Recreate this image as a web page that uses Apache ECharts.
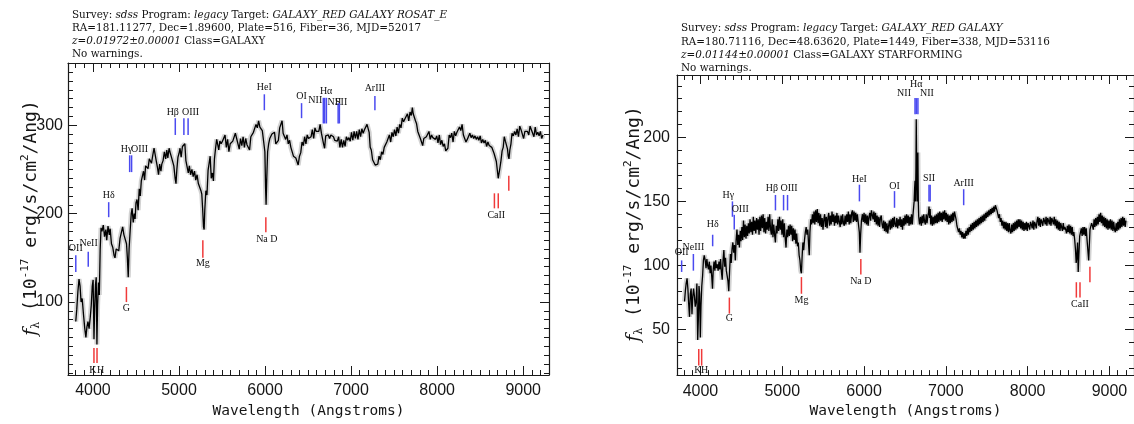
<!DOCTYPE html>
<html><head><meta charset="utf-8">
<script src="https://cdn.jsdelivr.net/npm/echarts@6/dist/echarts.min.js"></script>
<style>html,body{margin:0;padding:0;background:#fff}#c{width:1134px;height:424px}</style>
</head><body><div id="c"></div>
<script>
const leftZ = 0.01972, rightZ = 0.01144;
const leftHeader = [
 "Survey: {i|sdss} Program: {i|legacy} Target: {i|GALAXY_RED GALAXY ROSAT_E}",
 "RA=181.11277, Dec=1.89600, Plate=516, Fiber=36, MJD=52017",
 "{i|z=0.01972±0.00001} Class=GALAXY",
 "No warnings."
];
const rightHeader = [
 "Survey: {i|sdss} Program: {i|legacy} Target: {i|GALAXY_RED GALAXY}",
 "RA=180.71116, Dec=48.63620, Plate=1449, Fiber=338, MJD=53116",
 "{i|z=0.01144±0.00001} Class=GALAXY STARFORMING",
 "No warnings."
];
const xTickLabels = [4000,5000,6000,7000,8000,9000];
const leftYTickLabels = [100,200,300];
const rightYTickLabels = [50,100,150,200];

const leftSpectrum = [
[3800,78],[3812,92],[3825,112],[3838,126],[3850,118],[3862,100],[3875,104],[3890,86],[3905,70],[3918,60],
[3930,72],[3942,78],[3955,70],[3968,82],[3980,96],[3992,118],[4002,125],[4012,58],[4020,92],[4030,120],
[4038,128],[4046,52],[4054,96],[4064,122],[4074,108],[4084,160],[4094,184],[4105,180],[4120,187],[4135,174],
[4150,182],[4160,170],[4175,186],[4190,176],[4200,183],[4215,166],[4230,162],[4245,153],[4256,150],[4270,160],
[4285,162],[4300,158],[4315,172],[4330,174],[4345,185],[4360,176],[4375,174],[4390,166],[4400,150],[4410,128],
[4420,160],[4432,180],[4445,200],[4455,206],[4468,190],[4480,200],[4490,194],[4500,212],[4512,216],[4525,204],
[4538,228],[4550,220],[4562,237],[4575,238],[4588,248],[4600,238],[4612,254],[4625,254],[4640,251],[4655,262],
[4668,260],[4680,257],[4695,266],[4710,274],[4722,276],[4735,260],[4750,252],[4762,244],[4775,256],[4790,248],
[4800,256],[4815,260],[4830,270],[4845,262],[4858,272],[4870,263],[4885,274],[4900,268],[4912,264],[4925,264],
[4940,254],[4955,240],[4965,234],[4975,250],[4988,264],[5000,268],[5012,274],[5025,264],[5040,276],[5055,274],
[5068,279],[5080,260],[5095,260],[5108,246],[5120,254],[5135,244],[5150,250],[5165,242],[5180,248],[5195,238],
[5210,244],[5225,234],[5240,234],[5255,226],[5265,222],[5275,205],[5285,185],[5292,182],[5300,205],[5312,226],
[5325,221],[5338,249],[5350,257],[5362,265],[5375,240],[5388,246],[5400,237],[5412,262],[5425,274],[5438,284],
[5450,286],[5462,272],[5475,282],[5490,279],[5505,282],[5520,283],[5535,289],[5550,275],[5565,284],[5580,270],
[5595,279],[5610,278],[5625,282],[5640,281],[5655,291],[5670,285],[5685,283],[5700,273],[5715,285],[5730,277],
[5745,287],[5760,275],[5775,285],[5790,278],[5805,279],[5820,272],[5835,287],[5850,286],[5865,292],[5880,290],
[5895,301],[5910,297],[5925,305],[5940,298],[5955,300],[5968,294],[5985,292],[5998,270],[6006,230],[6012,210],
[6020,240],[6030,270],[6042,279],[6055,285],[6068,284],[6080,290],[6095,288],[6110,292],[6125,279],[6140,281],
[6155,283],[6170,297],[6185,297],[6198,305],[6210,291],[6225,293],[6240,284],[6255,289],[6270,279],[6285,283],
[6300,275],[6315,275],[6330,265],[6345,265],[6358,263],[6370,262],[6385,255],[6400,265],[6415,269],[6430,281],
[6445,277],[6460,287],[6475,279],[6490,289],[6505,285],[6520,287],[6535,287],[6550,295],[6565,285],[6580,297],
[6595,293],[6610,295],[6625,293],[6640,301],[6655,291],[6668,293],[6680,279],[6692,274],[6705,288],[6720,287],
[6735,289],[6750,285],[6765,289],[6780,287],[6795,287],[6810,283],[6825,285],[6840,282],[6855,287],[6870,275],
[6885,284],[6900,275],[6915,283],[6930,276],[6945,287],[6960,283],[6975,286],[6990,282],[7005,292],[7020,283],
[7035,293],[7050,285],[7065,293],[7080,284],[7095,295],[7110,287],[7125,296],[7140,291],[7155,295],[7170,293],
[7185,301],[7198,300],[7210,292],[7222,275],[7235,272],[7250,261],[7265,262],[7280,255],[7295,257],[7310,256],
[7325,265],[7340,261],[7355,270],[7370,267],[7385,275],[7400,273],[7415,281],[7430,279],[7445,289],[7460,281],
[7475,292],[7490,287],[7505,295],[7520,288],[7535,298],[7550,291],[7565,301],[7580,297],[7595,308],[7610,304],
[7625,307],[7640,305],[7655,313],[7670,305],[7685,315],[7700,311],[7712,320],[7722,313],[7735,314],[7748,305],
[7760,302],[7775,293],[7790,294],[7805,285],[7818,285],[7832,277],[7845,285],[7860,283],[7875,287],[7890,285],
[7905,293],[7920,284],[7935,289],[7950,286],[7965,287],[7980,284],[7995,288],[8010,280],[8025,289],[8040,278],
[8055,283],[8070,276],[8085,279],[8100,271],[8112,273],[8125,274],[8140,289],[8155,286],[8170,291],[8185,281],
[8200,293],[8215,288],[8230,292],[8245,290],[8260,298],[8275,294],[8290,301],[8305,289],[8320,291],[8335,281],
[8350,284],[8365,283],[8380,291],[8395,286],[8410,289],[8425,285],[8440,288],[8455,284],[8470,287],[8485,283],
[8500,288],[8515,280],[8530,284],[8545,280],[8560,283],[8575,276],[8590,281],[8605,277],[8620,279],[8635,275],
[8650,276],[8662,268],[8675,270],[8688,259],[8700,258],[8710,240],[8720,238],[8730,252],[8742,260],[8755,271],
[8768,275],[8780,287],[8793,282],[8805,283],[8818,273],[8826,265],[8835,262],[8845,272],[8858,279],[8870,291],
[8885,288],[8900,293],[8915,289],[8930,296],[8945,287],[8960,299],[8975,295],[8990,297],[9005,285],[9020,293],
[9035,291],[9050,293],[9065,289],[9080,299],[9095,295],[9110,295],[9125,287],[9140,298],[9155,289],[9170,292],
[9185,288],[9200,293],[9215,285],[9230,289]
];

const rightSpectrum = [
[3805,72],[3815,80],[3825,86],[3836,90],[3846,82],[3856,70],[3866,60],[3876,78],[3886,82],[3896,62],
[3906,76],[3916,82],[3926,76],[3936,68],[3946,72],[3956,86],[3966,42],[3974,58],[3982,84],[3990,78],
[3998,44],[4006,68],[4016,84],[4026,92],[4036,104],[4046,108],[4058,104],[4068,98],[4078,105],[4088,100],
[4098,97],[4108,103],[4118,94],[4128,100],[4138,91],[4147,82],[4156,97],[4166,103],[4176,96],[4186,104],
[4196,98],[4206,101],[4216,96],[4226,103],[4236,97],[4246,105],[4256,95],[4266,89],[4276,104],[4286,112],
[4296,99],[4306,106],[4316,96],[4326,95],[4336,88],[4346,80],[4356,96],[4366,109],[4376,102],[4386,113],
[4396,118],[4406,110],[4416,116],[4426,104],[4436,120],[4446,128],[4456,116],[4466,124],[4476,114],[4486,127],
[4496,119],[4506,130],[4516,120],[4526,135],[4536,122],[4546,132],[4556,121],[4566,131],[4576,123],[4586,133],
[4596,125],[4606,136],[4616,126],[4626,134],[4636,124],[4646,138],[4656,127],[4666,135],[4676,125],[4686,137],
[4696,128],[4706,136],[4716,124],[4726,138],[4736,127],[4746,139],[4756,129],[4766,140],[4776,126],[4786,137],
[4796,125],[4806,134],[4816,128],[4826,138],[4836,127],[4846,140],[4856,129],[4866,124],[4876,136],[4886,122],
[4896,132],[4906,124],[4916,118],[4926,131],[4936,125],[4946,136],[4956,127],[4966,138],[4976,128],[4986,135],
[4996,124],[5006,136],[5016,122],[5026,133],[5036,121],[5046,114],[5056,128],[5066,122],[5076,131],[5086,123],
[5096,132],[5106,124],[5116,131],[5126,119],[5136,129],[5146,120],[5156,128],[5166,117],[5176,125],[5186,115],
[5196,118],[5206,108],[5216,104],[5226,96],[5234,94],[5242,106],[5252,118],[5262,112],[5272,120],[5282,126],
[5292,130],[5302,124],[5312,128],[5322,116],[5330,108],[5338,126],[5348,136],[5358,132],[5368,140],[5378,133],
[5388,142],[5398,132],[5408,143],[5418,134],[5428,144],[5438,133],[5448,141],[5458,131],[5468,140],[5478,130],
[5488,137],[5498,128],[5508,136],[5518,140],[5528,130],[5538,138],[5548,129],[5558,137],[5568,141],[5578,131],
[5588,139],[5598,132],[5608,142],[5618,134],[5628,140],[5638,131],[5648,139],[5658,133],[5668,141],[5678,132],
[5688,139],[5698,134],[5708,130],[5718,139],[5728,132],[5738,140],[5748,133],[5758,131],[5768,139],[5778,132],
[5788,140],[5798,134],[5808,142],[5818,132],[5828,140],[5838,133],[5848,141],[5858,143],[5868,134],[5878,142],
[5888,135],[5898,141],[5908,134],[5918,140],[5930,133],[5942,126],[5950,110],[5958,124],[5968,135],[5980,140],
[5990,134],[6000,141],[6010,133],[6020,140],[6030,132],[6040,139],[6050,131],[6060,138],[6070,141],[6080,135],
[6090,143],[6100,144],[6110,136],[6120,142],[6130,134],[6140,141],[6150,132],[6160,139],[6170,131],[6180,138],
[6190,130],[6200,137],[6210,139],[6220,132],[6230,129],[6240,135],[6250,127],[6260,134],[6270,126],[6280,133],
[6290,125],[6300,131],[6310,135],[6320,128],[6330,136],[6340,129],[6350,137],[6360,130],[6370,138],[6380,132],
[6390,130],[6400,137],[6410,129],[6420,136],[6430,131],[6440,138],[6450,130],[6460,136],[6470,128],[6480,137],
[6490,131],[6500,139],[6510,132],[6520,140],[6530,133],[6540,139],[6550,131],[6560,138],[6570,132],[6580,140],
[6590,132],[6600,141],[6612,150],[6618,160],[6623,166],[6628,150],[6634,175],[6638,214],[6642,185],[6648,150],
[6653,165],[6658,188],[6663,150],[6668,138],[6678,132],[6690,138],[6700,131],[6710,139],[6720,133],[6730,140],
[6740,134],[6750,132],[6760,140],[6770,133],[6780,139],[6788,141],[6794,146],[6800,137],[6808,144],[6815,132],
[6825,139],[6835,131],[6845,138],[6855,132],[6865,139],[6875,133],[6885,140],[6895,133],[6905,141],[6915,134],
[6925,142],[6935,135],[6945,141],[6955,134],[6965,142],[6975,136],[6985,143],[6995,135],[7005,141],[7015,134],
[7025,140],[7035,132],[7045,139],[7055,133],[7065,140],[7075,134],[7085,141],[7095,135],[7105,142],[7115,141],
[7125,136],[7135,131],[7145,132],[7155,126],[7165,129],[7175,124],[7185,127],[7195,122],[7205,126],[7215,121],
[7225,125],[7235,121],[7245,127],[7255,123],[7265,129],[7275,124],[7285,130],[7295,126],[7305,132],[7315,127],
[7325,133],[7335,128],[7345,134],[7355,129],[7365,135],[7375,130],[7385,136],[7395,131],[7405,137],[7415,132],
[7425,138],[7435,133],[7445,139],[7455,134],[7465,140],[7475,135],[7485,141],[7495,137],[7505,142],[7515,138],
[7525,143],[7535,139],[7545,144],[7555,140],[7565,145],[7575,141],[7585,146],[7595,142],[7605,147],[7615,148],
[7625,143],[7635,140],[7645,137],[7655,140],[7665,134],[7675,137],[7685,131],[7695,135],[7705,129],[7715,134],
[7725,128],[7735,134],[7745,127],[7755,133],[7765,126],[7775,133],[7785,127],[7795,125],[7805,132],[7815,126],
[7825,133],[7835,127],[7845,134],[7855,128],[7865,135],[7875,129],[7885,136],[7895,130],[7905,136],[7915,129],
[7925,135],[7935,128],[7945,134],[7955,127],[7965,133],[7975,128],[7985,134],[7995,127],[8005,133],[8015,131],
[8025,128],[8035,134],[8045,132],[8055,129],[8065,135],[8075,128],[8085,134],[8095,132],[8105,129],[8115,135],
[8125,138],[8135,131],[8145,137],[8155,130],[8165,136],[8175,134],[8185,131],[8195,137],[8205,135],[8215,132],
[8225,138],[8235,131],[8245,137],[8255,135],[8265,132],[8275,138],[8285,131],[8295,137],[8305,135],[8315,132],
[8325,138],[8335,131],[8345,136],[8355,129],[8365,135],[8375,128],[8385,134],[8395,127],[8405,133],[8415,130],
[8425,127],[8435,133],[8445,128],[8455,130],[8465,128],[8475,125],[8485,131],[8495,126],[8505,132],[8515,125],
[8525,131],[8535,124],[8545,130],[8555,123],[8565,126],[8575,120],[8585,112],[8593,102],[8600,106],[8610,118],
[8618,95],[8626,108],[8636,123],[8646,122],[8656,129],[8666,123],[8676,130],[8686,124],[8696,130],[8706,123],
[8716,129],[8726,120],[8736,119],[8746,104],[8754,116],[8762,128],[8772,127],[8782,133],[8792,131],[8802,128],
[8812,136],[8822,130],[8832,137],[8842,131],[8852,138],[8862,132],[8872,140],[8882,134],[8892,141],[8902,133],
[8912,139],[8922,131],[8932,138],[8942,130],[8952,137],[8962,129],[8972,136],[8982,128],[8992,135],[9002,129],
[9012,136],[9022,128],[9032,135],[9042,127],[9052,134],[9062,128],[9072,126],[9082,133],[9092,127],[9102,134],
[9112,128],[9122,136],[9132,129],[9142,137],[9152,130],[9162,138],[9172,131],[9182,137],[9192,130],[9202,135]
];

// [label, rest wavelength, flux low end, flux high end, label flux, colour b/r, label dx px]
const leftMarkers = [
 ['OII',3727,134,153,161,'b',0], ['NeIII',3869,140,157,166,'b',2], ['Hδ',4102,196,213,221,'b',0],
 ['Hγ',4341,247,266,273,'b',-3], ['OIII',4363,247,266,273,'b',8], ['Hβ',4861,289,308,315,'b',-2.5],
 ['',4959,289,308,0,'b',0], ['OIII',5007,289,308,315,'b',2.5], ['HeI',5876,317,335,343,'b',0],
 ['OI',6300,308,325,333,'b',0], ['NII',6548,302,331,328,'b',-8], ['Hα',6563,302,331,338,'b',1.5],
 ['NII',6583,302,331,326,'b',8], ['SII',6717,302,325,326,'b',3], ['',6731,302,325,0,'b',0],
 ['ArIII',7136,317,333,342,'b',0],
 ['K',3934,31,48,23,'r',-1], ['H',3969,31,48,23,'r',3.5], ['G',4304,100,117,93,'r',0],
 ['Mg',5175,150,170,144,'r',0], ['Na D',5893,179,196,171,'r',1], ['',8498,206,223,0,'r',0],
 ['CaII',8542,206,223,198,'r',-2], ['',8662,226,243,0,'r',0]
];
const rightMarkers = [
 ['OII',3727,95,104,110,'b',0], ['NeIII',3869,96,109,114,'b',0], ['Hδ',4102,115,124,132,'b',0],
 ['Hγ',4341,138,150,155,'b',-4], ['OIII',4363,128,139.5,144,'b',6], ['Hβ',4861,143,155,160,'b',-3.5],
 ['',4959,143,155,0,'b',0], ['OIII',5007,143,155,160,'b',1.5], ['HeI',5876,150,163,167,'b',0],
 ['OI',6300,145,158,162,'b',0], ['NII',6548,218,230.5,234,'b',-11], ['Hα',6563,218,230.5,241,'b',0],
 ['NII',6583,218,230.5,234,'b',9], ['SII',6717,150,163,168,'b',0], ['',6731,150,163,0,'b',0],
 ['ArIII',7136,147,159.5,164,'b',0],
 ['K',3934,22,35,18.5,'r',-1], ['H',3969,22,35,18.5,'r',3], ['G',4304,62.5,75,58.5,'r',0],
 ['Mg',5175,78,91,73,'r',0], ['Na D',5893,93,105,88,'r',0], ['',8498,75,87,0,'r',0],
 ['CaII',8542,75,87,70,'r',0], ['',8662,87,99,0,'r',0]
];

function steps(a, b, s) { const r = []; for (let v = a; v <= b; v += s) r.push(v); return r; }
const xMinor = steps(3800, 9200, 100);
const leftYMinor = steps(20, 370, 10);
const rightYMinor = steps(20, 240, 10);

const AX = '#1a1a1a';
const tickFont = {fontFamily: 'Liberation Sans', fontSize: 16, color: '#151515', formatter: v => String(v)};
const titleFont = {fontFamily: 'DejaVu Sans Mono', fontSize: 14.5, color: '#151515'};

function xAxes(gi, min, max, gap) {
  const c = {type: 'value', gridIndex: gi, min, max, splitLine: {show: false}};
  const line = {onZero: false, lineStyle: {color: AX, width: 1.2}};
  return [
    Object.assign({}, c, {position: 'bottom', axisLine: line,
      axisTick: {inside: true, length: 9, customValues: xTickLabels, lineStyle: {color: AX}},
      axisLabel: Object.assign({customValues: xTickLabels, margin: 8}, tickFont),
      name: 'Wavelength (Angstroms)', nameLocation: 'middle', nameGap: gap, nameTextStyle: titleFont}),
    Object.assign({}, c, {position: 'bottom', axisLine: {show: false, onZero: false},
      axisTick: {inside: true, length: 5, customValues: xMinor, lineStyle: {color: AX}}, axisLabel: {show: false}}),
    Object.assign({}, c, {position: 'top', axisLine: line,
      axisTick: {inside: true, length: 9, customValues: xTickLabels, lineStyle: {color: AX}}, axisLabel: {show: false}}),
    Object.assign({}, c, {position: 'top', axisLine: {show: false, onZero: false},
      axisTick: {inside: true, length: 5, customValues: xMinor, lineStyle: {color: AX}}, axisLabel: {show: false}})
  ];
}
function yAxes(gi, min, max, major, minor, margin) {
  const c = {type: 'value', gridIndex: gi, min, max, splitLine: {show: false}};
  const line = {onZero: false, lineStyle: {color: AX, width: 1.2}};
  return [
    Object.assign({}, c, {position: 'left', axisLine: line,
      axisTick: {inside: true, length: 9, customValues: major, lineStyle: {color: AX}},
      axisLabel: Object.assign({customValues: major, margin}, tickFont)}),
    Object.assign({}, c, {position: 'left', axisLine: {show: false, onZero: false},
      axisTick: {inside: true, length: 5, customValues: minor, lineStyle: {color: AX}}, axisLabel: {show: false}}),
    Object.assign({}, c, {position: 'right', axisLine: line,
      axisTick: {inside: true, length: 9, customValues: major, lineStyle: {color: AX}}, axisLabel: {show: false}}),
    Object.assign({}, c, {position: 'right', axisLine: {show: false, onZero: false},
      axisTick: {inside: true, length: 5, customValues: minor, lineStyle: {color: AX}}, axisLabel: {show: false}})
  ];
}
function spectrumSeries(gi, data) {
  const base = {type: 'line', xAxisIndex: gi * 4, yAxisIndex: gi * 4, data, symbol: 'none', showSymbol: false,
    silent: true, animation: false, clip: true};
  return [
    Object.assign({}, base, {lineStyle: {color: '#d2d2d2', width: 5}}),
    Object.assign({}, base, {lineStyle: {color: '#000', width: 1.3}})
  ];
}
function markerSeries(gi, markers, z) {
  return {
    type: 'custom', xAxisIndex: gi * 4, yAxisIndex: gi * 4, clip: false, silent: true, animation: false,
    data: markers.map(m => [m[1] * (1 + z), m[2], m[3], m[4]]),
    renderItem(params, api) {
      const m = markers[params.dataIndex];
      const w = api.value(0);
      const a = api.coord([w, api.value(1)]);
      const b = api.coord([w, api.value(2)]);
      const kids = [{type: 'line', shape: {x1: a[0], y1: a[1], x2: b[0], y2: b[1]},
        style: {stroke: m[5] === 'b' ? '#4a4af0' : '#f03a3a', lineWidth: 1.5}}];
      if (m[0]) {
        const l = api.coord([w, api.value(3)]);
        kids.push({type: 'text', x: l[0] + m[6], y: l[1],
          style: {text: m[0], fill: '#111', fontSize: 10, fontFamily: 'Liberation Serif',
            align: 'center', verticalAlign: 'middle'}});
      }
      return {type: 'group', children: kids};
    }
  };
}
function headerText(x, ys, lines) {
  return lines.map((t, i) => ({
    type: 'text', x, y: ys[i], silent: true,
    style: {text: t, fill: '#111', fontFamily: 'DejaVu Serif', fontSize: 10.4, verticalAlign: 'middle',
      rich: {i: {fontStyle: 'italic', fontFamily: 'DejaVu Serif', fontSize: 10.4, fill: '#111'}}}
  }));
}
function yTitle(x, y) {
  const F = 'DejaVu Sans Mono';
  return {
    type: 'text', x, y, rotation: Math.PI / 2, silent: true,
    style: {
      text: '{f|f}{s|λ}{n| (10}{p|-17}{n| erg/s/cm}{p|2}{n|/Ang)}',
      align: 'center', verticalAlign: 'middle',
      rich: {
        f: {fontFamily: 'DejaVu Serif', fontStyle: 'italic', fontSize: 19, fill: '#151515', verticalAlign: 'middle', lineHeight: 22},
        s: {fontFamily: 'DejaVu Serif', fontSize: 11, fill: '#151515', verticalAlign: 'bottom', lineHeight: 22},
        n: {fontFamily: F, fontSize: 18, fill: '#151515', verticalAlign: 'middle', lineHeight: 22},
        p: {fontFamily: F, fontSize: 11, fill: '#151515', verticalAlign: 'top', lineHeight: 22}
      }
    }
  };
}

const chart = echarts.init(document.getElementById('c'), null, {renderer: 'canvas'});
chart.setOption({
  animation: false,
  backgroundColor: '#fff',
  grid: [
    {left: 68, top: 63, width: 481, height: 312},
    {left: 677, top: 75, width: 468, height: 304}
  ],
  xAxis: [].concat(xAxes(0, 3710, 9300, 28), xAxes(1, 3713, 9300, 27)),
  yAxis: [].concat(yAxes(0, 17.5, 370.4, leftYTickLabels, leftYMinor, 5),
                   yAxes(1, 14.6, 248.5, rightYTickLabels, rightYMinor, 7)),
  series: [].concat(spectrumSeries(0, leftSpectrum), [markerSeries(0, leftMarkers, leftZ)],
                    spectrumSeries(1, rightSpectrum), [markerSeries(1, rightMarkers, rightZ)]),
  graphic: [].concat(headerText(72, [15, 28, 41, 54], leftHeader),
                     headerText(681, [28.5, 42, 55, 68], rightHeader),
                     [yTitle(31, 218), yTitle(634, 224)])
});
</script></body></html>
